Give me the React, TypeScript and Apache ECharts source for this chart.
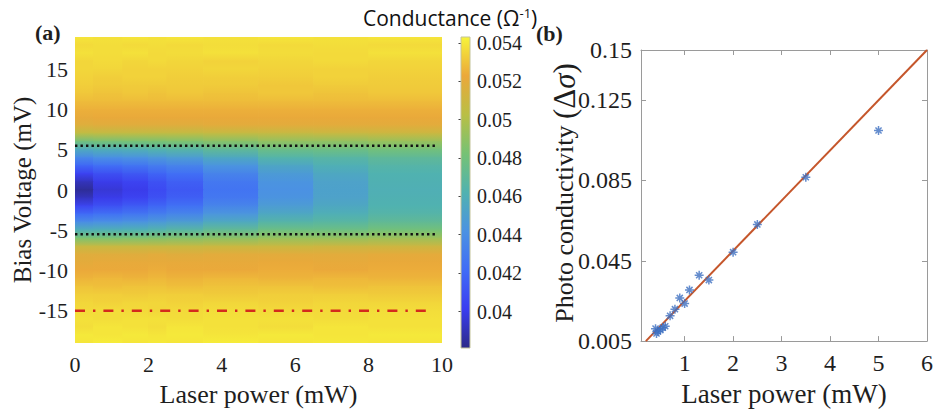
import React, { useEffect, useRef } from "react";
import * as echarts from "echarts";

// ---------- Panel (a): conductance map ----------
const POWER_EDGES = [0, 0.5, 1.3, 2, 2.5, 3.5, 5, 6.5, 8, 10]; // mW, column edges
const BIAS_V = [19, 18, 17, 16, 15, 14, 13, 12, 11, 10, 9, 8, 7, 6, 5, 4, 3, 2, 1, 0,
  -1, -2, -3, -4, -5, -6, -7, -8, -9, -10, -11, -12, -13, -14, -15, -16, -17, -18, -19]; // mV
// conductance in units of 1e-3 Ω⁻¹, one row per bias voltage, one value per power column
const CONDUCTANCE_MILLI = [
  [53.9, 53.8, 53.9, 53.8, 53.9, 53.8, 53.9, 53.8, 53.9],
  [53.6, 53.7, 53.6, 53.7, 53.6, 53.7, 53.6, 53.7, 53.6],
  [53.8, 53.7, 53.8, 53.6, 53.7, 53.8, 53.7, 53.6, 53.8],
  [53.5, 53.6, 53.5, 53.6, 53.5, 53.4, 53.5, 53.6, 53.5],
  [53.5, 53.5, 53.4, 53.4, 53.4, 53.5, 53.4, 53.4, 53.4],
  [53.4, 53.3, 53.4, 53.4, 53.3, 53.3, 53.3, 53.4, 53.3],
  [53.3, 53.2, 53.2, 53.2, 53.2, 53.2, 53.1, 53.2, 53.2],
  [53.1, 53.0, 53.1, 53.0, 53.1, 53.0, 53.1, 53.0, 53.1],
  [52.8, 52.8, 52.8, 52.8, 52.8, 52.8, 52.8, 52.8, 52.8],
  [52.5, 52.5, 52.5, 52.5, 52.5, 52.5, 52.5, 52.5, 52.5],
  [52.1, 52.2, 52.2, 52.2, 52.2, 52.2, 52.2, 52.2, 52.2],
  [51.7, 51.8, 51.8, 51.8, 51.8, 51.9, 51.9, 51.9, 51.9],
  [50.4, 50.5, 50.5, 50.5, 50.5, 50.6, 50.7, 50.8, 50.9],
  [47.9, 48.1, 48.2, 48.3, 48.4, 48.7, 49.0, 49.0, 49.2],
  [45.6, 45.9, 46.0, 46.3, 46.5, 47.0, 47.6, 47.7, 48.0],
  [43.6, 44.0, 44.2, 44.5, 44.8, 45.5, 46.4, 46.6, 47.0],
  [41.9, 42.3, 42.6, 43.0, 43.4, 44.3, 45.4, 46.0, 46.5],
  [40.3, 40.9, 41.3, 41.8, 42.3, 43.4, 44.7, 45.5, 46.2],
  [39.1, 40.0, 40.4, 41.0, 41.6, 42.8, 44.3, 45.2, 46.1],
  [38.4, 39.6, 40.0, 40.7, 41.3, 42.6, 44.1, 45.1, 46.0],
  [39.2, 40.0, 40.4, 41.0, 41.6, 42.8, 44.3, 45.2, 46.1],
  [40.5, 41.0, 41.4, 41.9, 42.4, 43.5, 44.8, 45.5, 46.2],
  [42.1, 42.4, 42.7, 43.1, 43.5, 44.4, 45.5, 46.0, 46.5],
  [43.9, 44.1, 44.3, 44.6, 44.9, 45.6, 46.5, 46.7, 47.1],
  [46.0, 46.1, 46.2, 46.4, 46.7, 47.2, 47.8, 47.8, 48.1],
  [48.4, 48.4, 48.5, 48.6, 48.7, 48.9, 49.2, 49.2, 49.4],
  [50.8, 50.8, 50.8, 50.8, 50.8, 50.9, 50.9, 51.0, 51.0],
  [51.8, 51.8, 51.8, 51.9, 51.8, 51.9, 51.9, 51.9, 52.0],
  [52.0, 52.1, 52.1, 52.1, 52.1, 52.1, 52.2, 52.1, 52.2],
  [52.3, 52.3, 52.3, 52.4, 52.3, 52.3, 52.4, 52.3, 52.4],
  [52.6, 52.7, 52.6, 52.7, 52.6, 52.7, 52.6, 52.7, 52.6],
  [53.0, 52.9, 53.0, 53.0, 52.9, 53.0, 53.0, 52.9, 53.0],
  [53.3, 53.3, 53.2, 53.3, 53.3, 53.2, 53.3, 53.3, 53.2],
  [53.5, 53.4, 53.5, 53.5, 53.4, 53.5, 53.4, 53.5, 53.5],
  [53.6, 53.7, 53.6, 53.5, 53.6, 53.7, 53.6, 53.6, 53.7],
  [53.8, 53.7, 53.8, 53.8, 53.7, 53.8, 53.8, 53.7, 53.8],
  [53.7, 53.9, 53.8, 53.7, 53.9, 53.8, 53.7, 53.9, 53.8],
  [54.0, 53.9, 54.0, 53.9, 54.0, 53.9, 54.0, 53.9, 54.0],
  [53.9, 54.1, 53.9, 54.0, 53.9, 54.1, 53.9, 54.0, 53.9],
];
const DOTTED_BIAS = [5.5, -5.5];
const DOTTED_END_POWER = 9.85;
const RED_BIAS = -15;
const RED_END_POWER = 9.7;
const A_Y_TICKS = [-15, -10, -5, 0, 5, 10, 15];

// colour bar
const CB_MIN = 0.0381;
const CB_MAX = 0.0543;
const CB_TICKS = [0.04, 0.042, 0.044, 0.046, 0.048, 0.05, 0.052, 0.054];
const PALETTE = ["#2c2a88", "#3b3df0", "#406cf6", "#4b92e2", "#50b2b0", "#76c274", "#b9bf45", "#eba83a", "#f7f43a"];

// ---------- Panel (b): photo conductivity ----------
const POWER_B = [0.4, 0.42, 0.45, 0.5, 0.55, 0.6, 0.7, 0.8, 0.9, 1.0, 1.1, 1.3, 1.5, 2, 2.5, 3.5, 5];
const PHOTO_B = [0.0112, 0.0088, 0.0098, 0.0105, 0.0117, 0.0124, 0.0176, 0.0209, 0.0265, 0.0237, 0.0305, 0.0378, 0.0354, 0.0493, 0.0631, 0.0866, 0.1099];
const FIT_X = [0.2, 6];
const FIT_Y = [0.005, 0.15];
const B_X_TICKS = [1, 2, 3, 4, 5, 6];
const B_Y_TICKS = [0.005, 0.045, 0.085, 0.125, 0.15];

const SERIF = "'Liberation Serif', 'Times New Roman', serif";
const TXT = "#1e1e1e";

function colorOf(g: number) {
  let t = (g - CB_MIN) / (CB_MAX - CB_MIN);
  t = Math.max(0, Math.min(1, t));
  return echarts.color.lerp(t, PALETTE) as string;
}

export default function App() {
  const ref = useRef<HTMLDivElement>(null);
  useEffect(() => {
    document.body.style.margin = "0";
    if (!ref.current) return;
    const chart = echarts.init(ref.current, undefined, { renderer: "svg" });

    const heatData: number[][] = [];
    for (let i = 0; i < BIAS_V.length - 1; i++) {
      for (let c = 0; c < POWER_EDGES.length - 1; c++) {
        heatData.push([
          POWER_EDGES[c], POWER_EDGES[c + 1],
          BIAS_V[i + 1], BIAS_V[i],
          CONDUCTANCE_MILLI[i + 1][c] / 1000, CONDUCTANCE_MILLI[i][c] / 1000,
        ]);
      }
    }

    const scatterData = POWER_B.map((p, i) => [p, PHOTO_B[i]]);
    const fitData = FIT_X.map((p, i) => [p, FIT_Y[i]]);

    const asterisk = "path://M5,0L5,10M0,5L10,5M1.6,1.6L8.4,8.4M1.6,8.4L8.4,1.6";

    const option: any = {
      animation: false,
      backgroundColor: "#ffffff",
      grid: [
        { left: 75, top: 37, width: 367, height: 311 },
        { left: 461, top: 37, width: 9, height: 311 },
        { left: 641, top: 50, width: 289, height: 292 },
      ],
      xAxis: [
        {
          gridIndex: 0, type: "value", min: 0, max: 10, interval: 2,
          axisLine: { show: false }, axisTick: { show: false }, splitLine: { show: false },
          axisLabel: { color: TXT, fontFamily: SERIF, fontSize: 22, margin: 10 },
          name: "Laser power (mW)", nameLocation: "middle", nameGap: 38,
          nameTextStyle: { color: TXT, fontFamily: SERIF, fontSize: 26 },
        },
        { gridIndex: 1, type: "value", min: 0, max: 1, show: false },
        {
          gridIndex: 2, type: "value", min: 0.1, max: 6, position: "bottom",
          axisLine: { show: true, lineStyle: { color: "#9a9a9a", width: 1 } },
          axisTick: { show: true, inside: true, length: 5, customValues: B_X_TICKS, lineStyle: { color: "#9a9a9a" } },
          axisLabel: { customValues: B_X_TICKS, color: TXT, fontFamily: SERIF, fontSize: 24, margin: 10 },
          splitLine: { show: false },
          name: "Laser power (mW)", nameLocation: "middle", nameGap: 36,
          nameTextStyle: { color: TXT, fontFamily: SERIF, fontSize: 27 },
        },
        {
          gridIndex: 2, type: "value", min: 0.1, max: 6, position: "top",
          axisLine: { show: true, lineStyle: { color: "#9a9a9a", width: 1 } },
          axisTick: { show: true, inside: true, length: 5, customValues: B_X_TICKS, lineStyle: { color: "#9a9a9a" } },
          axisLabel: { show: false }, splitLine: { show: false },
        },
      ],
      yAxis: [
        {
          gridIndex: 0, type: "value", min: -19, max: 19,
          axisLine: { show: false }, axisTick: { show: false }, splitLine: { show: false },
          axisLabel: { customValues: A_Y_TICKS, color: TXT, fontFamily: SERIF, fontSize: 22, margin: 7 },
          name: "Bias Voltage (mV)", nameLocation: "middle", nameGap: 40,
          nameTextStyle: { color: TXT, fontFamily: SERIF, fontSize: 25 },
        },
        {
          gridIndex: 1, type: "value", min: CB_MIN, max: CB_MAX, position: "right",
          axisLine: { show: false }, splitLine: { show: false },
          axisTick: { show: true, inside: true, length: 2.5, customValues: CB_TICKS, lineStyle: { color: "#444" } },
          axisLabel: { customValues: CB_TICKS, color: TXT, fontFamily: SERIF, fontSize: 20, margin: 7, formatter: (v: number) => String(v) },
        },
        {
          gridIndex: 2, type: "value", min: 0.005, max: 0.15, position: "left",
          axisLine: { show: true, lineStyle: { color: "#9a9a9a", width: 1 } },
          axisTick: { show: true, inside: true, length: 5, customValues: B_Y_TICKS, lineStyle: { color: "#9a9a9a" } },
          axisLabel: { customValues: B_Y_TICKS, color: TXT, fontFamily: SERIF, fontSize: 24, margin: 9, formatter: (v: number) => String(v) },
          splitLine: { show: false },
        },
        {
          gridIndex: 2, type: "value", min: 0.005, max: 0.15, position: "right",
          axisLine: { show: true, lineStyle: { color: "#9a9a9a", width: 1 } },
          axisTick: { show: true, inside: true, length: 5, customValues: B_Y_TICKS, lineStyle: { color: "#9a9a9a" } },
          axisLabel: { show: false }, splitLine: { show: false },
        },
      ],
      series: [
        {
          type: "custom", xAxisIndex: 0, yAxisIndex: 0, clip: true, silent: true,
          encode: { x: [0, 1], y: [2, 3] },
          data: heatData,
          renderItem: (_p: any, api: any) => {
            const p0 = api.coord([api.value(0), api.value(3)]);
            const p1 = api.coord([api.value(1), api.value(2)]);
            return {
              type: "rect",
              shape: { x: p0[0] - 0.4, y: p0[1] - 0.6, width: p1[0] - p0[0] + 0.8, height: p1[1] - p0[1] + 1.2 },
              style: {
                fill: new echarts.graphic.LinearGradient(0, 1, 0, 0, [
                  { offset: 0, color: colorOf(api.value(4)) },
                  { offset: 1, color: colorOf(api.value(5)) },
                ]),
              },
            };
          },
        },
        ...DOTTED_BIAS.map((v) => ({
          type: "line", xAxisIndex: 0, yAxisIndex: 0, symbol: "none", silent: true,
          data: [[0, v], [DOTTED_END_POWER, v]],
          lineStyle: { color: "#111", width: 2.4, type: [2.4, 3.1], cap: "butt" },
          z: 5,
        })),
        {
          type: "line", xAxisIndex: 0, yAxisIndex: 0, symbol: "none", silent: true,
          data: [[0, RED_BIAS], [RED_END_POWER, RED_BIAS]],
          lineStyle: { color: "#d42a1c", width: 2.6, type: [10, 8, 2.4, 8], cap: "butt" },
          z: 5,
        },
        {
          type: "custom", xAxisIndex: 1, yAxisIndex: 1, silent: true,
          encode: { x: [0, 1], y: [2, 3] },
          data: [[0, 1, CB_MIN, CB_MAX]],
          renderItem: (_p: any, api: any) => {
            const p0 = api.coord([api.value(0), api.value(3)]);
            const p1 = api.coord([api.value(1), api.value(2)]);
            return {
              type: "rect",
              shape: { x: p0[0], y: p0[1], width: p1[0] - p0[0], height: p1[1] - p0[1] },
              style: {
                fill: new echarts.graphic.LinearGradient(0, 1, 0, 0,
                  PALETTE.map((c, i) => ({ offset: i / (PALETTE.length - 1), color: c }))),
                stroke: "#c3c39a", lineWidth: 1,
              },
            };
          },
        },
        {
          type: "line", xAxisIndex: 2, yAxisIndex: 2, symbol: "none", silent: true, clip: true,
          data: fitData,
          lineStyle: { color: "#c5562b", width: 2 },
          z: 3,
        },
        {
          type: "scatter", xAxisIndex: 2, yAxisIndex: 2, silent: true,
          symbol: asterisk, symbolSize: 9,
          data: scatterData,
          itemStyle: { color: "#3d6fc0", borderColor: "#3d6fc0", borderWidth: 1.5 },
          z: 4,
        },
      ],
      graphic: [
        { type: "text", left: 35, top: 21, style: { text: "(a)", font: `bold 22px ${SERIF}`, fill: TXT } },
        { type: "text", left: 536, top: 22, style: { text: "(b)", font: `bold 22px ${SERIF}`, fill: TXT } },
        {
          type: "text", left: 363, top: 6,
          style: {
            text: "Conductance (Ω{sup|-1})",
            font: "21px 'Open Sans', 'Noto Sans', sans-serif", fill: "#111",
            rich: { sup: { fontSize: 13, fontFamily: "'Open Sans', sans-serif", verticalAlign: "top", padding: [0, 0, 10, 0], fill: "#111" } },
          },
        },
        {
          type: "text", x: 564, y: 193, rotation: Math.PI / 2,
          style: {
            text: "Photo conductivity {m|(Δ}{s|σ}{m|)}",
            font: `26px ${SERIF}`, fill: TXT, align: "center", verticalAlign: "middle",
            rich: {
              m: { fontSize: 31, fontFamily: SERIF, fill: TXT },
              s: { fontSize: 31, fontFamily: SERIF, fontStyle: "italic", fill: TXT },
            },
          },
        },
      ],
    };
    chart.setOption(option);
    return () => chart.dispose();
  }, []);
  return <div ref={ref} style={{ width: 936, height: 412 }} />;
}
